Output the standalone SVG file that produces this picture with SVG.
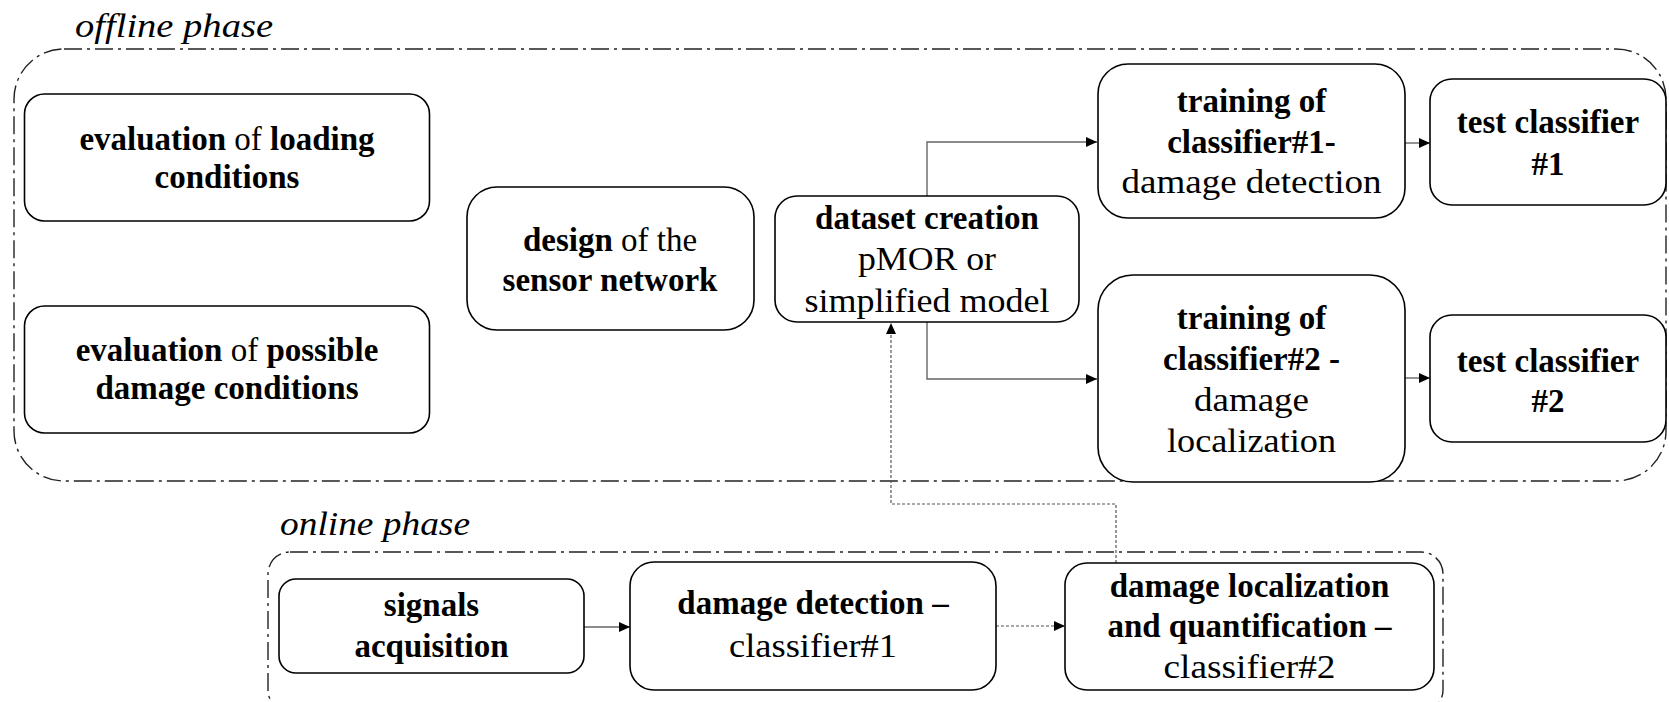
<svg xmlns="http://www.w3.org/2000/svg" width="1669" height="702" viewBox="0 0 1669 702">
<style>
text{font-family:"Liberation Serif","Times New Roman",serif;font-size:33px;fill:#000;text-anchor:middle}
.b{font-weight:bold}
.lbl{font-style:italic;text-anchor:start}
.node{fill:#fff;stroke:#000;stroke-width:1.6}
.phase{fill:none;stroke:#222;stroke-width:1.4;stroke-dasharray:18 5 3 5}
.conn{fill:none;stroke:#666;stroke-width:1.4}
.dot{fill:none;stroke:#555;stroke-width:1.2;stroke-dasharray:3 2}
</style>
<defs>
<marker id="ah" markerUnits="userSpaceOnUse" markerWidth="12" markerHeight="10" refX="11" refY="5" orient="auto">
<path d="M0,0 L11,5 L0,10 Z" fill="#000"/>
</marker>
</defs>

<g id="offline-phase">
<rect class="phase" x="14" y="49" width="1652" height="432" rx="50"/>
<text class="lbl" x="75" y="37" textLength="198" lengthAdjust="spacingAndGlyphs">offline phase</text>
</g>
<g id="online-phase">
<rect class="phase" x="268" y="552" width="1175" height="160" rx="22"/>
<text class="lbl" x="280" y="535" textLength="190" lengthAdjust="spacingAndGlyphs">online phase</text>
</g>

<g id="connectors">
<polyline class="conn" points="927,196 927,142 1097,142" marker-end="url(#ah)"/>
<polyline class="conn" points="927,322 927,379 1097,379" marker-end="url(#ah)"/>
<line class="conn" x1="1405" y1="143" x2="1430" y2="143" marker-end="url(#ah)"/>
<line class="conn" x1="1405" y1="378" x2="1430" y2="378" marker-end="url(#ah)"/>
<line class="conn" x1="584" y1="627" x2="630" y2="627" marker-end="url(#ah)"/>
<line class="dot" x1="996" y1="626" x2="1065" y2="626" marker-end="url(#ah)"/>
<polyline class="dot" points="1116,563 1116,504 891,504 891,323" marker-end="url(#ah)"/>
</g>

<g id="eval-loading">
<rect class="node" x="24.5" y="94" width="405" height="127" rx="20"/>
<text x="227" y="150"><tspan class="b">evaluation</tspan> of <tspan class="b">loading</tspan></text>
<text x="227" y="188" class="b">conditions</text>
</g>

<g id="eval-damage">
<rect class="node" x="24.5" y="306" width="405" height="127" rx="20"/>
<text x="227" y="361"><tspan class="b">evaluation</tspan> of <tspan class="b">possible</tspan></text>
<text x="227" y="399" class="b">damage conditions</text>
</g>

<g id="design-sensor">
<rect class="node" x="467" y="187" width="287" height="143" rx="30"/>
<text x="610" y="251"><tspan class="b">design</tspan> of the</text>
<text x="610" y="291" class="b">sensor network</text>
</g>

<g id="dataset">
<rect class="node" x="775" y="196" width="304" height="126" rx="22"/>
<text x="927" y="229" class="b">dataset creation</text>
<text x="927" y="270" textLength="138" lengthAdjust="spacingAndGlyphs">pMOR or</text>
<text x="927" y="312" textLength="245" lengthAdjust="spacingAndGlyphs">simplified model</text>
</g>

<g id="training1">
<rect class="node" x="1098" y="64" width="307" height="154" rx="30"/>
<text x="1251.5" y="112" class="b">training of</text>
<text x="1251.5" y="153" class="b">classifier#1-</text>
<text x="1251.5" y="193" textLength="260" lengthAdjust="spacingAndGlyphs">damage detection</text>
</g>

<g id="test1">
<rect class="node" x="1430" y="79" width="236" height="126" rx="22"/>
<text x="1548" y="133" class="b">test classifier</text>
<text x="1548" y="175" class="b">#1</text>
</g>

<g id="training2">
<rect class="node" x="1098" y="275" width="307" height="207" rx="35"/>
<text x="1251.5" y="329" class="b">training of</text>
<text x="1251.5" y="370" class="b">classifier#2 -</text>
<text x="1251.5" y="411" textLength="115" lengthAdjust="spacingAndGlyphs">damage</text>
<text x="1251.5" y="452" textLength="169" lengthAdjust="spacingAndGlyphs">localization</text>
</g>

<g id="test2">
<rect class="node" x="1430" y="315" width="236" height="127" rx="22"/>
<text x="1548" y="372" class="b">test classifier</text>
<text x="1548" y="412" class="b">#2</text>
</g>

<g id="signals">
<rect class="node" x="279" y="579" width="305" height="94" rx="17"/>
<text x="431.5" y="616" class="b">signals</text>
<text x="431.5" y="657" class="b">acquisition</text>
</g>

<g id="damage-detection">
<rect class="node" x="630" y="562" width="366" height="128" rx="24"/>
<text x="813" y="614" class="b">damage detection –</text>
<text x="813" y="657" textLength="168" lengthAdjust="spacingAndGlyphs">classifier#1</text>
</g>

<g id="damage-localization">
<rect class="node" x="1065" y="563" width="369" height="127" rx="22"/>
<text x="1249.5" y="597" class="b">damage localization</text>
<text x="1249.5" y="637" class="b">and quantification –</text>
<text x="1249.5" y="678" textLength="172" lengthAdjust="spacingAndGlyphs">classifier#2</text>
</g>
</svg>
